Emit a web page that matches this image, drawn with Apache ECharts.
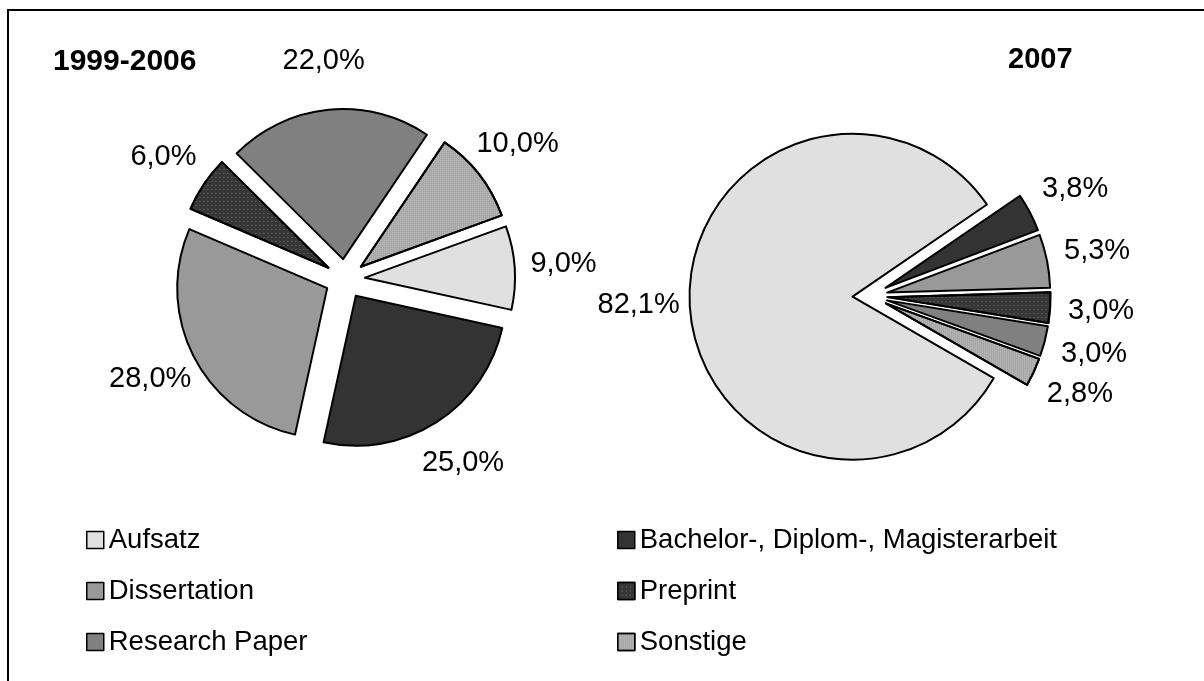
<!DOCTYPE html>
<html>
<head>
<meta charset="utf-8">
<script src="https://cdn.jsdelivr.net/npm/echarts@6/dist/echarts.min.js"></script>
<style>
html,body{margin:0;padding:0;background:#fff;}
#chart{width:1204px;height:681px;}
</style>
</head>
<body>
<div id="chart"></div>
<script>
// ---- data ----
var categories = ['Aufsatz', 'Bachelor-, Diplom-, Magisterarbeit', 'Dissertation', 'Preprint', 'Research Paper', 'Sonstige'];
var values1999 = [9.0, 25.0, 28.0, 6.0, 22.0, 10.0];
var values2007 = [82.1, 3.8, 5.3, 3.0, 3.0, 2.8];
var titles = ['1999-2006', '2007'];
var legendCol1 = ['Aufsatz', 'Dissertation', 'Research Paper'];
var legendCol2 = ['Bachelor-, Diplom-, Magisterarbeit', 'Preprint', 'Sonstige'];

var colors = ['#e0e0e0', '#333333', '#999999', '#363636', '#808080', '#a6a6a6'];
var decals = [
  null,
  null,
  null,
  { symbol: 'rect', symbolSize: 1, dashArrayX: [1, 3], dashArrayY: [1, 3], color: 'rgba(130,130,130,0.9)' },
  null,
  { symbol: 'rect', symbolSize: 1, dashArrayX: [1, 1], dashArrayY: [1, 1], color: 'rgba(200,200,200,0.8)' }
];
var FONT = '"Liberation Sans", Arial, sans-serif';

function fmt(p) {
  return p.value.toFixed(1).replace('.', ',') + '%';
}

function pieSeries(vals, center, radius, startAngle, offset) {
  return {
    type: 'pie',
    center: center,
    radius: radius,
    startAngle: startAngle,
    clockwise: true,
    selectedMode: 'multiple',
    selectedOffset: offset,
    silent: true,
    emphasis: { disabled: true },
    data: categories.map(function (c, i) {
      var d = { name: c, value: vals[i], selected: true };
      if (decals[i]) d.itemStyle = { decal: decals[i] };
      return d;
    }),
    itemStyle: { borderColor: '#000', borderWidth: 2 },
    select: { itemStyle: { borderColor: '#000', borderWidth: 2 } },
    label: { show: false },
    labelLine: { show: false }
  };
}

// invisible ring carrying the percentage labels just outside each slice
function labelSeries(vals, center, ringRadius, startAngle, offset) {
  return {
    type: 'pie',
    center: center,
    radius: ringRadius,
    startAngle: startAngle,
    clockwise: true,
    selectedMode: 'multiple',
    selectedOffset: offset,
    silent: true,
    emphasis: { disabled: true },
    data: categories.map(function (c, i) {
      return { name: c, value: vals[i], selected: true };
    }),
    itemStyle: { color: 'rgba(0,0,0,0)', borderWidth: 0 },
    select: { itemStyle: { color: 'rgba(0,0,0,0)', borderWidth: 0 } },
    label: {
      show: true,
      position: 'inside',
      color: '#000',
      fontSize: 29,
      fontFamily: FONT,
      formatter: fmt
    },
    labelLine: { show: false }
  };
}

var chart = echarts.init(document.getElementById('chart'), null, { renderer: 'canvas' });
var legendBase = {
  orient: 'vertical',
  top: 525,
  padding: 0,
  itemWidth: 17,
  itemHeight: 17,
  itemGap: 21,
  icon: 'rect',
  selectedMode: false,
  itemStyle: { borderColor: '#000', borderWidth: 1.5 },
  textStyle: { fontSize: 27.5, fontFamily: FONT, color: '#000', lineHeight: 30 }
};
chart.setOption({
  animation: false,
  color: colors,
  legend: [
    Object.assign({}, legendBase, { left: 86, data: legendCol1 }),
    Object.assign({}, legendBase, { left: 617, data: legendCol2 })
  ],
  graphic: [
    { type: 'rect', shape: { x: 8, y: 10, width: 1400, height: 900 }, style: { fill: 'none', stroke: '#000', lineWidth: 2 }, silent: true },
    { type: 'text', x: 53, y: 62, style: { text: titles[0], font: 'bold 30px ' + FONT, fill: '#000', verticalAlign: 'middle' } },
    { type: 'text', x: 1008, y: 60, style: { text: titles[1], font: 'bold 29px ' + FONT, fill: '#000', verticalAlign: 'middle' } }
  ],
  series: [
    pieSeries(values1999, [345, 279], 150, 20, 20),
    pieSeries(values2007, [870, 296], 163, -30, 17.5),
    labelSeries(values1999, [345, 279], [186, 206], 20, 20),
    labelSeries(values2007, [870, 296], [201, 221], -30, 17.5)
  ]
});
</script>
</body>
</html>
